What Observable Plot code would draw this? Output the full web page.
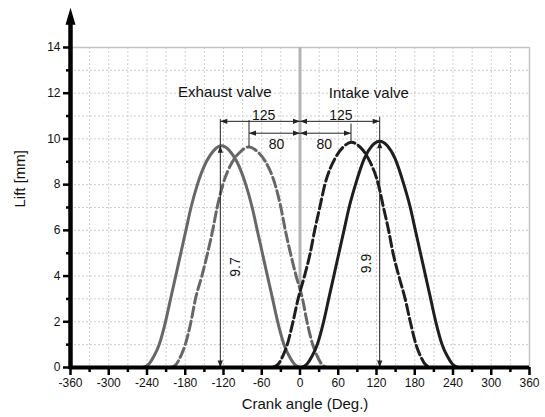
<!DOCTYPE html>
<html><head><meta charset="utf-8">
<script src="https://cdn.jsdelivr.net/npm/d3@7"></script>
<script src="https://cdn.jsdelivr.net/npm/@observablehq/plot@0.6"></script>
<style>html,body{margin:0;padding:0;background:#fff;}</style>
</head><body><div id="chart"></div>
<script>
// ---- axis ticks ----
const xTicks = [-360,-300,-240,-180,-120,-60,0,60,120,180,240,300,360];
const xMinorTicks = [-330,-270,-210,-150,-90,-30,30,90,150,210,270,330];
const xGrid = [-330,-300,-270,-240,-210,-180,-150,-120,-90,-60,-30,0,30,60,90,120,150,180,210,240,270,300,330];
const yTicks = [0,2,4,6,8,10,12,14];
const yMinorTicks = [1,3,5,7,9,11,13];
const yGrid = [1,2,3,4,5,6,7,8,9,10,11,12,13];
const xTitle = "Crank angle (Deg.)";
const yTitle = "Lift [mm]";

// ---- valve lift curves (deg, mm) ----
const exhaustMainX = [-246,-237,-229,-221,-211,-203,-195,-187,-179,-171,-161,-147,-135,-123,-111,-99,-85,-75,-67,-59,-51,-43,-35,-25,-17,-9,0];
const exhaustMainY = [0,0.15,0.5,1,2,3,4,5,6,7,8,9,9.5,9.7,9.5,9,8,7,6,5,4,3,2,1,0.5,0.15,0];
const exhaustAltX = [-202,-194,-187,-180,-171,-164,-154,-145,-137,-130,-121,-106,-93,-80,-67,-54,-39,-30,-23,-15,-6,4,11,20,27,34,42];
const exhaustAltY = [0,0.15,0.5,1,2,3,4,5,6,7,8,9,9.45,9.65,9.45,9,8,7,6,5,4,3,2,1,0.5,0.15,0];
const intakeAltX = [-43,-34,-27,-20,-11,-3,7,16,23,31,39,55,68,81,94,107,123,131,139,146,155,165,173,182,189,196,205];
const intakeAltY = [0,0.15,0.5,1,2,3,4,5,6,7,8,9.15,9.65,9.85,9.65,9.15,8,7,6,5,4,3,2,1,0.5,0.15,0];
const intakeMainX = [2,11,19,27,37,45,53,61,69,77,87,101,113,125,137,149,163,173,181,189,197,205,213,223,231,239,248];
const intakeMainY = [0,0.15,0.5,1,2,3,4,5,6,7,8,9.15,9.7,9.9,9.7,9.15,8,7,6,5,4,3,2,1,0.5,0.15,0];

// ---- annotations ----
const valveLabels = ["Exhaust valve", "Intake valve"];
const valveLabelX = [-118, 108];
const valveLabelY = [12.05, 12.0];
const timingOffsets = [125, 80];          // deg from TDC
const timingLineY = [10.77, 10.25];
const timingTextY = [11.03, 9.76];
const timingTextX = [[-57, -37], [64, 38]]; // exhaust, intake
const peakLifts = [9.7, 9.9];              // exhaust, intake (at -125 / 125)
const peakLiftTextX = [-101, 104];
const peakLiftTextY = [4.4, 4.55];
const extensionTops = [[10.85, 10.8], [10.95, 10.65]];
const altPeaks = [9.65, 9.85];
const tdcLineBottom = 3.4;

const pts = (xs, ys) => xs.map((x, i) => ({x, y: ys[i]}));

// dimension lines and arrow heads
const dimLines = [];
const heads = [];
const hTexts = [];
const extensions = [];
[-1, 1].forEach((s, side) => {
  timingOffsets.forEach((off, i) => {
    const end = s * off, y = timingLineY[i];
    dimLines.push({x1: 0, y1: y, x2: end, y2: y});
    heads.push({x: end, y, r: s < 0 ? -90 : 90});
    heads.push({x: 0, y, r: s < 0 ? 90 : -90});
    hTexts.push({x: timingTextX[side][i], y: timingTextY[i], t: String(off)});
  });
  extensions.push({x: s * timingOffsets[0], y1: peakLifts[side], y2: extensionTops[side][0]});
  extensions.push({x: s * timingOffsets[1], y1: altPeaks[side], y2: extensionTops[side][1]});
});
const vTexts = [];
[-1, 1].forEach((s, side) => {
  const x = s * timingOffsets[0], lift = peakLifts[side];
  dimLines.push({x1: x, y1: 0, x2: x, y2: lift});
  heads.push({x, y: lift, r: 0});
  heads.push({x, y: 0, r: 180});
  vTexts.push({x: peakLiftTextX[side], y: peakLiftTextY[side], t: String(lift)});
});

const axisArrow = {draw(ctx) { ctx.moveTo(0, -17); ctx.lineTo(5, 0); ctx.lineTo(-5, 0); ctx.closePath(); }};
const dimHead = {draw(ctx) { ctx.moveTo(0, 0); ctx.lineTo(2.6, 7); ctx.lineTo(-2.6, 7); ctx.closePath(); }};

const gridStyle = {stroke: "#cdcdcd", strokeOpacity: 1, strokeDasharray: "2,2", strokeWidth: 1};
const ink = "#111";

const chart = Plot.plot({
  width: 545, height: 417,
  marginLeft: 70, marginRight: 16, marginTop: 47, marginBottom: 50,
  x: {domain: [-360, 360]},
  y: {domain: [0, 14]},
  style: {fontFamily: "'Liberation Sans', Arial, Helvetica, sans-serif", fontSize: "12px", color: ink, background: "#fff", overflow: "visible"},
  marks: [
    Plot.gridX(xGrid, gridStyle),
    Plot.gridY(yGrid, gridStyle),
    Plot.ruleY([14], {stroke: "#c4c4c4", strokeWidth: 1.5}),
    Plot.ruleX([360], {stroke: "#c4c4c4", strokeWidth: 1.5}),
    Plot.ruleX([{x: 0, y1: tdcLineBottom, y2: 14}], {x: "x", y1: "y1", y2: "y2", stroke: "#b4b4b4", strokeWidth: 3}),
    Plot.line(pts(exhaustMainX, exhaustMainY), {x: "x", y: "y", stroke: "#676767", strokeWidth: 3, curve: "monotone-x"}),
    Plot.line(pts(exhaustAltX, exhaustAltY), {x: "x", y: "y", stroke: "#676767", strokeWidth: 3, strokeDasharray: "10,4", curve: "monotone-x"}),
    Plot.line(pts(intakeAltX, intakeAltY), {x: "x", y: "y", stroke: "#1e1e1e", strokeWidth: 3, strokeDasharray: "10,4", curve: "monotone-x"}),
    Plot.line(pts(intakeMainX, intakeMainY), {x: "x", y: "y", stroke: "#1e1e1e", strokeWidth: 3, curve: "monotone-x"}),
    Plot.ruleX(extensions, {x: "x", y1: "y1", y2: "y2", stroke: "#222", strokeWidth: 1}),
    Plot.link(dimLines, {x1: "x1", y1: "y1", x2: "x2", y2: "y2", stroke: "#222", strokeWidth: 1}),
    Plot.dot(heads, {x: "x", y: "y", rotate: "r", symbol: dimHead, fill: "#222"}),
    Plot.text(hTexts, {x: "x", y: "y", text: "t", fontSize: 14, fill: ink}),
    Plot.text(vTexts, {x: "x", y: "y", text: "t", fontSize: 14, fill: ink, rotate: -90}),
    Plot.text(valveLabels, {x: (d, i) => valveLabelX[i], y: (d, i) => valveLabelY[i], text: d => d, fontSize: 15, fill: ink}),
    Plot.ruleY([0], {stroke: "#000", strokeWidth: 4}),
    Plot.ruleX([{x: -360, y1: 0, y2: 15}], {x: "x", y1: "y1", y2: "y2", stroke: "#000", strokeWidth: 4.5, strokeLinecap: "square"}),
    Plot.dot([{x: -360, y: 15}], {x: "x", y: "y", symbol: axisArrow, fill: "#000", r: 5}),
    Plot.axisX({ticks: xTicks, tickSize: 8, tickPadding: 3, strokeWidth: 2.5, stroke: "#000", fontSize: 12, label: null, tickFormat: d => String(d)}),
    Plot.axisX({ticks: xMinorTicks, tickSize: 5, strokeWidth: 2.5, stroke: "#000", label: null, tickFormat: () => ""}),
    Plot.axisY({ticks: yTicks, tickSize: 7, tickPadding: 3, strokeWidth: 2.5, stroke: "#000", fontSize: 12, label: null, tickFormat: d => String(d)}),
    Plot.axisY({ticks: yMinorTicks, tickSize: 4, strokeWidth: 2.5, stroke: "#000", label: null, tickFormat: () => ""}),
    Plot.text([xTitle], {frameAnchor: "bottom", dy: 41, dx: 5, text: d => d, fontSize: 15, fill: ink}),
    Plot.text([yTitle], {frameAnchor: "left", dx: -50, rotate: -90, text: d => d, fontSize: 15, fill: ink})
  ]
});
document.getElementById("chart").appendChild(chart);
</script>
</body></html>
